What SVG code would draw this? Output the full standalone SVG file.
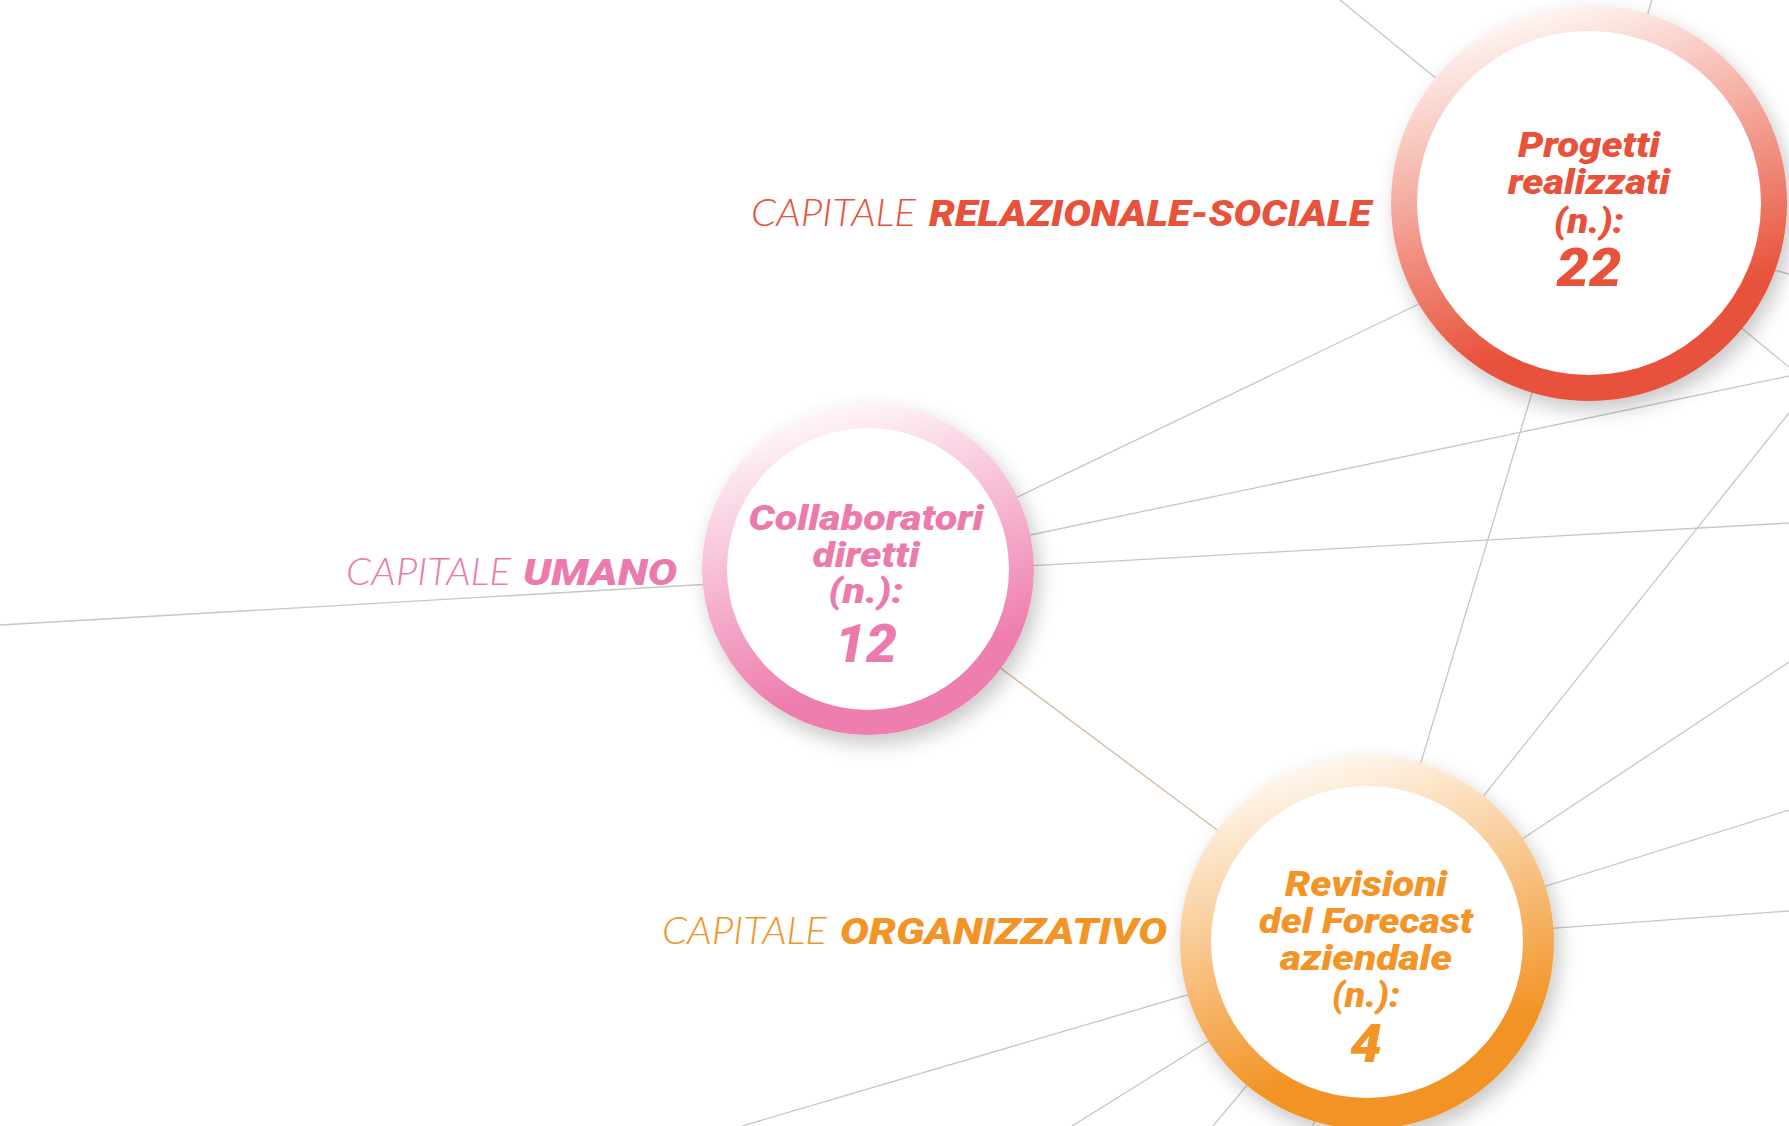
<svg xmlns="http://www.w3.org/2000/svg" width="1789" height="1126" viewBox="0 0 1789 1126">
<style>
.ln{stroke:#c6c6c6;stroke-width:1.3;fill:none}
.tan{stroke:#d9b99c;stroke-width:1.3;fill:none}
.t{font-family:Roboto,Lato,"Open Sans",sans-serif;font-style:italic;font-weight:900;text-anchor:middle}
.lt{font-family:Lato,"Open Sans",sans-serif;font-style:italic;font-weight:300;font-size:37px}
.bd{font-family:Roboto,Lato,"Open Sans",sans-serif;font-style:italic;font-weight:900;font-size:37px}
.red{fill:#e8513a}.pink{fill:#ec7bad}.org{fill:#f39427}
</style>
<defs>
<filter id="sh" x="-20%" y="-20%" width="140%" height="140%">
<feDropShadow dx="5" dy="9" stdDeviation="10" flood-color="#000" flood-opacity="0.22"/>
</filter>
<linearGradient id="gRed" x1="0.35" y1="0" x2="0.65" y2="1">
<stop offset="0" stop-color="#fffaf8"/><stop offset="0.8" stop-color="#e8513a"/><stop offset="1" stop-color="#e8513a"/>
</linearGradient>
<linearGradient id="gPink" x1="0.35" y1="0" x2="0.65" y2="1">
<stop offset="0" stop-color="#fffafc"/><stop offset="0.8" stop-color="#ee7eae"/><stop offset="1" stop-color="#ee7eae"/>
</linearGradient>
<linearGradient id="gOrg" x1="0.35" y1="0" x2="0.65" y2="1">
<stop offset="0" stop-color="#fffaf4"/><stop offset="0.8" stop-color="#f29325"/><stop offset="1" stop-color="#f29325"/>
</linearGradient>
</defs>
<rect width="1789" height="1126" fill="#ffffff"/>
<g id="connectors">
<line class="ln" x1="1340" y1="0" x2="1589" y2="203"/>
<line class="ln" x1="1652" y1="0" x2="1589" y2="203"/>
<line class="ln" x1="1700" y1="250" x2="1789" y2="274"/>
<line class="ln" x1="1589" y1="203" x2="1789" y2="367"/>
<line class="ln" x1="868" y1="569" x2="1500" y2="265"/>
<line class="ln" x1="868" y1="569" x2="1789" y2="376"/>
<line class="ln" x1="868" y1="575" x2="1789" y2="523"/>
<line class="ln" x1="0" y1="625" x2="868" y2="575"/>
<line class="tan" x1="868" y1="569" x2="1367" y2="942"/>
<line class="ln" x1="1589" y1="203" x2="1367" y2="942"/>
<line class="ln" x1="1789" y1="413" x2="1367" y2="942"/>
<line class="ln" x1="1789" y1="662" x2="1367" y2="942"/>
<line class="ln" x1="1789" y1="810" x2="1367" y2="942"/>
<line class="ln" x1="1789" y1="911" x2="1367" y2="942"/>
<line class="ln" x1="742" y1="1126" x2="1367" y2="942"/>
<line class="ln" x1="1072" y1="1126" x2="1367" y2="942"/>
<line class="ln" x1="1213" y1="1126" x2="1367" y2="942"/>
<line class="ln" x1="1313" y1="1126" x2="1367" y2="942"/>
</g>
<g id="node-progetti">
<circle cx="1589" cy="203" r="198" fill="url(#gRed)" filter="url(#sh)"/>
<circle cx="1589" cy="203" r="172" fill="#ffffff"/>
<text class="t red" x="1589" y="157" font-size="35" textLength="142" lengthAdjust="spacingAndGlyphs">Progetti</text>
<text class="t red" x="1589" y="194" font-size="35" textLength="162" lengthAdjust="spacingAndGlyphs">realizzati</text>
<text class="t red" x="1589" y="233" font-size="35" textLength="70" lengthAdjust="spacingAndGlyphs">(n.):</text>
<text class="t red" x="1589" y="286" font-size="54" textLength="65" lengthAdjust="spacingAndGlyphs">22</text>
<text class="lt red" x="751" y="226" textLength="165" lengthAdjust="spacingAndGlyphs">CAPITALE</text>
<text class="bd red" x="929" y="226" textLength="442" lengthAdjust="spacingAndGlyphs">RELAZIONALE-SOCIALE</text>
</g>
<g id="node-collaboratori">
<circle cx="868" cy="569" r="166" fill="url(#gPink)" filter="url(#sh)"/>
<circle cx="868" cy="569" r="141" fill="#ffffff"/>
<text class="t pink" x="866" y="530" font-size="35" textLength="235" lengthAdjust="spacingAndGlyphs">Collaboratori</text>
<text class="t pink" x="866" y="567" font-size="35" textLength="107" lengthAdjust="spacingAndGlyphs">diretti</text>
<text class="t pink" x="866" y="603" font-size="35" textLength="75" lengthAdjust="spacingAndGlyphs">(n.):</text>
<text class="t pink" x="866" y="662" font-size="54" textLength="62" lengthAdjust="spacingAndGlyphs">12</text>
<text class="lt pink" x="346" y="585" textLength="165" lengthAdjust="spacingAndGlyphs">CAPITALE</text>
<text class="bd pink" x="523" y="585" textLength="154" lengthAdjust="spacingAndGlyphs">UMANO</text>
</g>
<g id="node-revisioni">
<circle cx="1367" cy="942" r="187" fill="url(#gOrg)" filter="url(#sh)"/>
<circle cx="1367" cy="942" r="156" fill="#ffffff"/>
<text class="t org" x="1366" y="896" font-size="35" textLength="162" lengthAdjust="spacingAndGlyphs">Revisioni</text>
<text class="t org" x="1366" y="933" font-size="35" textLength="214" lengthAdjust="spacingAndGlyphs">del Forecast</text>
<text class="t org" x="1366" y="970" font-size="35" textLength="172" lengthAdjust="spacingAndGlyphs">aziendale</text>
<text class="t org" x="1366" y="1007" font-size="35" textLength="68" lengthAdjust="spacingAndGlyphs">(n.):</text>
<text class="t org" x="1366" y="1062" font-size="54" textLength="32" lengthAdjust="spacingAndGlyphs">4</text>
<text class="lt org" x="662" y="944" textLength="165" lengthAdjust="spacingAndGlyphs">CAPITALE</text>
<text class="bd org" x="840" y="944" textLength="327" lengthAdjust="spacingAndGlyphs">ORGANIZZATIVO</text>
</g>
</svg>
